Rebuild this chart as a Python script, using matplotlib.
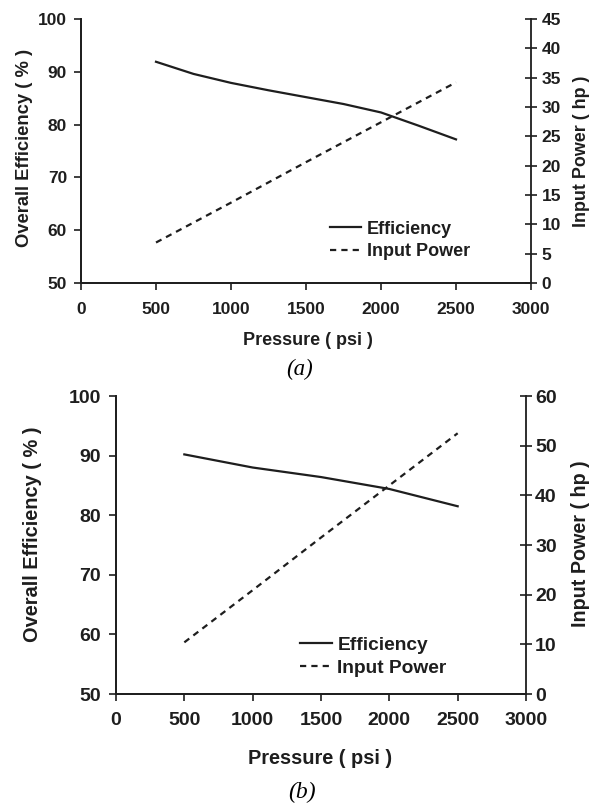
import matplotlib
matplotlib.use("Agg")
import matplotlib.pyplot as plt

# Data
pressure = [500, 1000, 1500, 2000, 2500]
pressure_fine = [500, 750, 1000, 1250, 1500, 1750, 2000, 2250, 2500]

eff_a = [91.9, 89.6, 87.9, 86.5, 85.2, 83.9, 82.3, 79.8, 77.2]
power_a = [6.9, 13.7, 20.6, 27.4, 34.2]

eff_b = [90.2, 88.0, 86.4, 84.4, 81.5]
power_b = [10.4, 20.9, 31.5, 42.0, 52.5]

x_ticks = [0, 500, 1000, 1500, 2000, 2500, 3000]
eff_ticks = [50, 60, 70, 80, 90, 100]
power_ticks_a = [0, 5, 10, 15, 20, 25, 30, 35, 40, 45]
power_ticks_b = [0, 10, 20, 30, 40, 50, 60]

plt.rcParams['font.family'] = ['Liberation Sans', 'DejaVu Sans']
plt.rcParams['font.weight'] = 'bold'

INK = '#1e1e1e'
W, H = 598, 805

fig = plt.figure(figsize=(W / 100, H / 100), dpi=100)


def panel(box, x_eff, eff, pw, pw_ticks, pw_max, fs, tfs, leg_anchor, hlen, xpad, lpad, rpad):
    left, top, right, bottom = box
    ax = fig.add_axes([left / W, 1 - bottom / H, (right - left) / W, (bottom - top) / H])
    ax2 = ax.twinx()

    l1, = ax.plot(x_eff, eff, color=INK, lw=1.6)
    l2, = ax2.plot(pressure, pw, color=INK, lw=1.6, dashes=(2.8, 2.3))

    ax.set_xlim(0, 3000)
    ax.set_ylim(50, 100)
    ax2.set_ylim(0, pw_max)
    ax.set_xticks(x_ticks)
    ax.set_yticks(eff_ticks)
    ax2.set_yticks(pw_ticks)

    for a in (ax, ax2):
        a.spines['top'].set_visible(False)
        for s in a.spines.values():
            s.set_color(INK)
            s.set_linewidth(1.3)
    ax.spines['right'].set_visible(False)

    ax.tick_params(axis='x', direction='out', length=5, width=1.2,
                   colors=INK, labelsize=tfs, pad=xpad)
    ax.tick_params(axis='y', direction='out', length=5, width=1.2,
                   colors=INK, labelsize=tfs, pad=lpad)
    ax2.tick_params(axis='y', direction='inout', length=9, width=1.2,
                    colors=INK, labelsize=tfs, pad=rpad)
    for lab in ax.get_xticklabels() + ax.get_yticklabels() + ax2.get_yticklabels():
        lab.set_fontweight('bold')

    leg = ax.legend([l1, l2], ['Efficiency', 'Input Power'], loc='center left',
                    bbox_to_anchor=leg_anchor, frameon=False, fontsize=fs,
                    handlelength=hlen, handletextpad=0.3, borderpad=0,
                    borderaxespad=0, labelspacing=0.3)
    for t in leg.get_texts():
        t.set_fontweight('bold')
        t.set_color(INK)
    return ax


def label(x, y, s, fs, rot=0):
    fig.text(x / W, 1 - y / H, s, rotation=rot, ha='center', va='center',
             fontsize=fs, fontweight='bold', color=INK)


# panel (a)
panel((81, 19, 531, 283), pressure_fine, eff_a, power_a, power_ticks_a, 45,
      13, 12.5, (0.553, 0.161), 1.75, 9, 5, 3)
label(308, 340, 'Pressure ( psi )', 13)
label(25, 148, 'Overall Efficiency ( % )', 13.2, 90)
label(582, 151, 'Input Power ( hp )', 12.9, 90)

# panel (b)
panel((116, 396, 526, 694), pressure, eff_b, power_b, power_ticks_b, 60,
      13.8, 14, (0.449, 0.126), 1.65, 8, 6, 2)
label(320, 758, 'Pressure ( psi )', 14.4)
label(33, 534, 'Overall Efficiency ( % )', 14.4, 90)
label(581, 544, 'Input Power ( hp )', 14.2, 90)

fig.text(300 / W, 1 - 369 / H, '(a)', ha='center', va='center', fontsize=16.5,
         family='Liberation Serif', style='italic', fontweight='normal', color='black')
fig.text(302 / W, 1 - 792 / H, '(b)', ha='center', va='center', fontsize=17,
         family='Liberation Serif', style='italic', fontweight='normal', color='black')

fig.savefig('out.png', dpi=100, facecolor='white')
